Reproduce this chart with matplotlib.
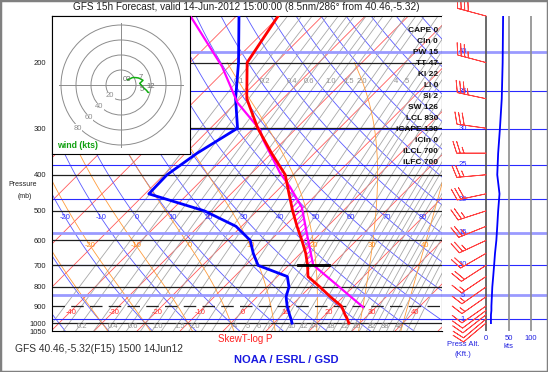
import numpy as np
import matplotlib
matplotlib.use('Agg')
import matplotlib.pyplot as plt
from matplotlib.patches import Rectangle, Circle

plt.rcParams['font.family'] = ['Liberation Sans', 'DejaVu Sans']
plt.rcParams['hatch.linewidth'] = 0.6

# GFS sounding, 14 Jun 2012 15Z, 40.46,-5.32
pres = [1000, 975, 950, 925, 900, 850, 800, 750, 700, 650, 600, 550, 500, 450, 400, 350, 300, 250, 200, 150]
temp = [27.4, 26.1, 24.6, 23.2, 21.7, 17.0, 12.3, 7.1, 4.4, 1.2, -2.7, -7.1, -11.7, -16.5, -21.8, -30.0, -39.0, -48.4, -56.7, -60.3]
dwpt = [14.2, 13.0, 11.7, 10.4, 9.1, 6.7, 5.1, 2.3, -7.1, -11.0, -14.7, -21.3, -32.2, -49.1, -49.3, -47.3, -43.7, -51.0, -58.7, -69.4]
wdir = [230, 230, 232, 233, 235, 235, 235, 236, 237, 240, 245, 248, 252, 258, 265, 270, 278, 282, 285, 285]
wspd = [11, 11, 11, 12, 12, 13, 14, 16, 18, 20, 23, 25, 27, 30, 25, 27, 31, 35, 37, 38]

# lifted parcel
parcel_p = [906, 698, 599, 489, 431, 395, 322, 303, 256, 205, 150]
parcel_t = [27.0, 5.6, -1.3, -10.4, -17.9, -23.5, -35.1, -38.1, -49.7, -61.6, -80.7]
lcl_p = 698

stats = ['CAPE 0', 'CIn 0', 'PW 15', 'TT 47', 'KI 22', 'LI 0', 'SI 2', 'SW 126',
         'LCL 830', 'iCAPE 138', 'iCIn 0', 'iLCL 700', 'iLFC 700']

# background line sets
isotherms = np.arange(-120, 51, 10)
isotherm_labels = [-40, -30, -20, -10, 0, 10, 20, 30, 40]
dry_thetas = np.arange(-50, 181, 10)
dry_labels = [-20, -10, 0, 10, 20, 30, 40, 50, 60, 70, 80]
moist_thetas = [-30, -20, -10, 0, 10, 20, 30, 40]
moist_labels = [-20, -10, 0, 10, 20, 30, 40]
mix_lines = [0.1, 0.15, 0.2, 0.3, 0.4, 0.5, 0.6, 0.8, 1.0, 1.2, 1.5, 2.0, 2.5, 3, 4, 5, 6, 7, 8, 9,
             10, 12, 14, 16, 18, 20, 22, 24, 26, 29, 32, 35, 38, 42, 46, 50, 55, 60]
mix_top_labels = ['0.1', '0.2', '0.4', '0.6', '1.0', '1.5', '2.0', '4', '5']
mix_bot_labels = ['0.2', '0.4', '0.6', '1.0', '1.5', '2.0', '4', '5', '6', '7', '10', '12', '14',
                  '18', '22', '26', '32', '38', '46']
plevels = [200, 300, 400, 500, 600, 700, 800, 1000]
alt_kft = [40, 35, 30, 25, 20, 15, 10, 5, 1]
alt_light = [40, 15, 5]
hodo_rings = [20, 40, 60, 80]
# hodograph height labels: level, nudge in kt (u, v)
hodo_marks = {'03': (1000, 0, 0), '7': (400, 2, 8), '12': (200, 4, 7), '5': (150, -9, 4)}

SKEW = 37.56
PXT = 4.3  # pixels per deg C


def sx(t, p):
    return np.asarray(t, dtype=float) + SKEW * np.log(1000.0 / np.asarray(p, dtype=float))


def dewpoint_from_w(w, p):
    e = (w / 1000.0) * p / (0.622 + w / 1000.0)
    a = np.log(e / 6.112)
    return 243.5 * a / (17.67 - a)


def moist_lapse(t, p):
    es = 6.112 * np.exp(17.67 * (t - 273.15) / (t - 273.15 + 243.5))
    rs = 0.622 * es / (p - es)
    return (287.04 * t + 2.501e6 * rs) / (1005.7 + 2.501e6 ** 2 * rs * 0.622 / (287.04 * t ** 2))


def moist_line(thw):
    # pseudo-adiabat through thw at 1000 mb, returned with pressure increasing
    ps, ts = [], []
    for p_end in (200.0, 1050.0):
        lnp = np.linspace(np.log(1000.0), np.log(p_end), 150)
        t = thw + 273.15
        tt = [t]
        for i in range(len(lnp) - 1):
            h = lnp[i + 1] - lnp[i]
            k1 = moist_lapse(t, np.exp(lnp[i]))
            k2 = moist_lapse(t + h * k1, np.exp(lnp[i + 1]))
            t = t + h * (k1 + k2) / 2
            tt.append(t)
        ps.append(np.exp(lnp))
        ts.append(np.array(tt) - 273.15)
    p = np.concatenate([ps[0][::-1], ps[1][1:]])
    t = np.concatenate([ts[0][::-1], ts[1][1:]])
    return p, t


def std_pres(kft):
    return 1013.25 * (1 - 6.8756e-6 * kft * 1000) ** 5.2559


fig = plt.figure(figsize=(5.48, 3.72), dpi=100)
fig.patches.append(Rectangle((0, 0), 1, 1, transform=fig.transFigure, fill=False,
                             edgecolor='#808080', lw=2.5))

W, H = 548.0, 372.0
ax = fig.add_axes([52 / W, 1 - 331 / H, 390 / W, 315 / H])
ax.set_yscale('log')
ax.set_ylim(1050, 150)
ax.set_xlim((52 - 231) / PXT, (442 - 231) / PXT)
ax.yaxis.set_minor_locator(matplotlib.ticker.NullLocator())
ax.set_yticks([200, 300, 400, 500, 600, 700, 800, 900, 1000, 1050])
ax.set_yticklabels(['200', '300', '400', '500', '600', '700', '800', '900', '1000', '1050'])
ax.set_xticks([])
ax.tick_params(axis='y', length=0, pad=4, labelsize=5.5, colors='#202020')
for s in ax.spines.values():
    s.set_linewidth(0.8)

pgrid = np.exp(np.linspace(np.log(1060), np.log(140), 120))
for t0 in isotherms:
    ax.plot(sx(np.full_like(pgrid, t0), pgrid), pgrid, color='#ff5a5a', lw=0.6, zorder=1)
for th in dry_thetas:
    tt = (th + 273.15) * (pgrid / 1000.0) ** 0.2857 - 273.15
    ax.plot(sx(tt, pgrid), pgrid, color='#5a5aff', lw=0.6, zorder=1)
for w in mix_lines:
    ax.plot(sx(dewpoint_from_w(w, pgrid), pgrid), pgrid, color='#a8a8a8', lw=0.6, zorder=1)
for thw in moist_thetas:
    mp, mt = moist_line(thw)
    ax.plot(sx(mt, mp), mp, color='#ff9c3c', lw=0.6, zorder=1)

# labels on the background lines
for t0 in isotherm_labels:
    ax.text(sx(t0, 934) + 1 / PXT, 934, str(t0), color='#ff3030', fontsize=5.5,
            ha='center', va='center', zorder=3)
for th in dry_labels:
    tt = (th + 273.15) * (522 / 1000.0) ** 0.2857 - 273.15
    ax.text(sx(tt, 522), 522, str(th), color='#3030ff', fontsize=5.5, ha='center', va='center', zorder=3)
for thw in moist_labels:
    mp, mt = moist_line(thw)
    tt = np.interp(np.log(621), np.log(mp), mt)
    ax.text(sx(tt, 621), 621, str(thw), color='#ff8c1a', fontsize=5.5, ha='center', va='center', zorder=3)
for lab in mix_top_labels:
    ax.text(sx(dewpoint_from_w(float(lab), 225), 225) + 3 / PXT, 225, lab, color='#909090',
            fontsize=5.5, ha='center', va='center', zorder=3)
for lab in mix_bot_labels:
    ax.text(sx(dewpoint_from_w(float(lab), 1020), 1020) + 3 / PXT, 1020, lab, color='#909090',
            fontsize=5.5, ha='center', va='center', zorder=3)

# pressure and altitude lines
xl = ax.get_xlim()
for p in plevels:
    ax.plot(xl, [p, p], color='#202020', lw=0.9, zorder=2)
ax.plot(xl, [900, 900], color='#202020', lw=0.9, ls=(0, (10, 5)), zorder=2)
for k in alt_kft:
    pk = std_pres(k)
    if k in alt_light:
        ax.plot(xl, [pk, pk], color='#9a9aff', lw=2, zorder=1.8)
    else:
        ax.plot(xl, [pk, pk], color='#2a2aff', lw=0.8, zorder=1.8)

# CAPE hatch between parcel and environment
pg = np.exp(np.linspace(np.log(700), np.log(420), 80))
tpar = np.interp(np.log(pg), np.log(parcel_p[::-1]), parcel_t[::-1])
tenv = np.interp(np.log(pg), np.log(pres[::-1]), temp[::-1])
ax.fill_betweenx(pg, sx(tenv, pg), sx(tpar, pg), where=tpar > tenv, facecolor='none',
                 edgecolor='#ff00ff', hatch='//////', lw=0, zorder=3)

ax.plot(sx(dwpt, pres), pres, color='#0000ff', lw=2, zorder=4)
ax.plot(sx(parcel_t, parcel_p), parcel_p, color='#ff00ff', lw=1.6, zorder=4)
ax.plot(sx(temp, pres), pres, color='#ff0000', lw=2, zorder=4.5)
lcl_x = sx(np.interp(np.log(lcl_p), np.log(parcel_p[::-1]), parcel_t[::-1]), lcl_p)
ax.plot([lcl_x - 3.6, lcl_x + 3.6], [lcl_p, lcl_p], color='black', lw=2, zorder=5)

for i, s in enumerate(stats):
    ax.text(0.99, (331 - 30 - 11.05 * i) / 315.0, s, transform=ax.transAxes, ha='right',
            va='center', fontsize=6, fontweight='bold', color='#101010', zorder=6)

# right panel: barbs and wind speed
ax2 = fig.add_axes([442 / W, 1 - 331 / H, 106 / W, 315 / H], sharey=ax)
ax2.set_xlim((442 - 486) / 0.45, (548 - 486) / 0.45)
for s in ax2.spines.values():
    s.set_visible(False)
ax2.tick_params(axis='y', left=False, labelleft=False)
ax2.set_xticks([0, 50, 100])
ax2.set_xticklabels(['0', '50', '100'])
ax2.tick_params(axis='x', length=0, pad=3, labelsize=5.5, colors='#2020e0')
ax2.plot([0, 0], [1050, 150], color='#505050', lw=1.2)
ax2.plot([50, 50], [1050, 150], color='#8c8c8c', lw=1.2)
ax2.plot([100, 100], [1050, 150], color='#8c8c8c', lw=1.2)
x2 = ax2.get_xlim()
for k in alt_kft:
    pk = std_pres(k)
    if k in alt_light:
        ax2.plot(x2, [pk, pk], color='#9a9aff', lw=2, zorder=1)
    else:
        ax2.plot(x2, [pk, pk], color='#2a2aff', lw=0.8, zorder=1)
    ax2.text(-51, pk, str(k), color='#2a2aff', fontsize=5.5, ha='center', va='center', zorder=3)
ax2.plot(wspd, pres, color='#0000ff', lw=1.3, zorder=3)
rad = np.deg2rad(wdir)
u = -np.array(wspd) * np.sin(rad)
v = -np.array(wspd) * np.cos(rad)
ax2.barbs(np.zeros(len(pres)), pres, u, v, length=6.5, color='#ff4040', linewidth=0.6,
          clip_on=False, zorder=4)
blend = matplotlib.transforms.blended_transform_factory(ax2.transData, fig.transFigure)
ax2.text(50, 1 - 346 / H, 'kts', transform=blend, ha='center', va='center', fontsize=5.5, color='#2020e0')
ax2.text(-51, 1 - 345 / H, 'Press Alt.', transform=blend, ha='center', va='center', fontsize=5.5, color='#2020e0')
ax2.text(-51, 1 - 354 / H, '(Kft.)', transform=blend, ha='center', va='center', fontsize=5.5, color='#2020e0')

# hodograph inset
hax = fig.add_axes([52 / W, 1 - 154 / H, 138 / W, 138 / H], zorder=5)
hax.set_xlim(-92, 92)
hax.set_ylim(-92, 92)
hax.set_xticks([])
hax.set_yticks([])
for s in hax.spines.values():
    s.set_linewidth(0.8)
for r in hodo_rings:
    hax.add_patch(Circle((0, 0), r, fill=False, ec='#8c8c8c', lw=0.7))
    hax.text(-r * 0.72, -r * 0.72, str(r), color='#8c8c8c', fontsize=5.5, ha='center', va='center',
             bbox=dict(facecolor='white', edgecolor='none', pad=0.2))
hax.plot([-83, 83], [0, 0], color='#8c8c8c', lw=0.7)
hax.plot([0, 0], [-83, 83], color='#8c8c8c', lw=0.7)
hax.plot(u, v, color='#10b010', lw=1.1)
for lab, (lev, du, dv) in hodo_marks.items():
    i = pres.index(lev)
    hax.text(u[i] + du, v[i] + dv, lab, color='#707070', fontsize=5.5, ha='center', va='center')
hax.text(0.04, 0.06, 'wind (kts)', transform=hax.transAxes, color='#10a010', fontsize=6.3,
         fontweight='bold', ha='left', va='center')

fig.text(246 / W, 1 - 7 / H, 'GFS 15h Forecast, valid 14-Jun-2012 15:00:00 (8.5nm/286\u00b0 from 40.46,-5.32)',
         ha='center', va='center', fontsize=7.2, color='#202020')
fig.text(23 / W, 1 - 185 / H, 'Pressure', ha='center', va='center', fontsize=5, color='#202020')
fig.text(25 / W, 1 - 196 / H, '(mb)', ha='center', va='center', fontsize=5, color='#202020')
fig.text(15 / W, 1 - 349 / H, 'GFS 40.46,-5.32(F15) 1500 14Jun12', ha='left', va='center',
         fontsize=7.4, color='#303030')
fig.text(218 / W, 1 - 339 / H, 'SkewT-log P', ha='left', va='center', fontsize=7, color='#ff2020')
fig.text(286 / W, 1 - 360 / H, 'NOAA / ESRL / GSD', ha='center', va='center', fontsize=8,
         fontweight='bold', color='#1a1ae0')

fig.savefig('out.png', dpi=100)
